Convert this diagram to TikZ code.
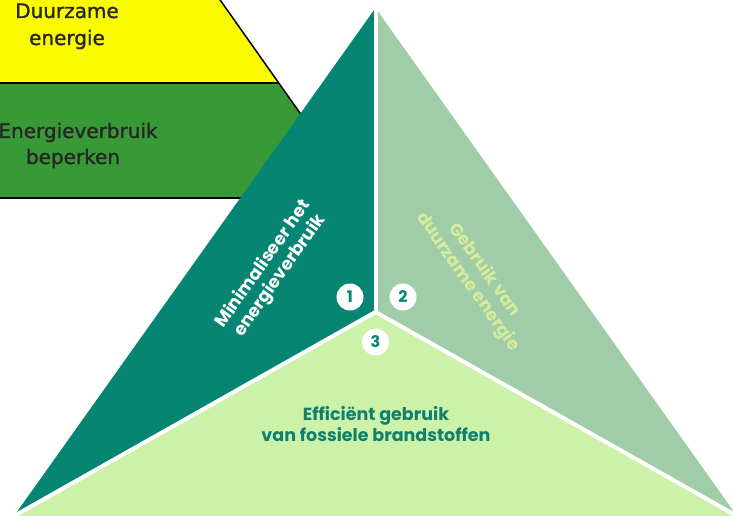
\documentclass[tikz,border=0pt]{standalone}
\usepackage{fontspec}
\setmainfont{Poppins}
\newfontfamily\pyrfont[FakeBold=1.2]{DejaVu Sans}
\definecolor{teal1}{HTML}{058572}
\definecolor{sage}{HTML}{A0CDA8}
\definecolor{pale}{HTML}{CCF1A8}
\definecolor{paletext}{HTML}{D2EC9C}
\definecolor{tealtext}{HTML}{117F6E}
\definecolor{pyryellow}{HTML}{FAFA00}
\definecolor{pyrgreen}{HTML}{379A37}
\begin{document}
\begin{tikzpicture}[x=1pt,y=-1pt,
  pyrtext/.style={font=\pyrfont\fontsize{20}{24}\selectfont, text=black!85, anchor=base, inner sep=0pt},
  maintext/.style={font=\fontseries{sb}\selectfont\fontsize{17.5}{20.5}\selectfont, align=center, inner sep=0pt},
  numcircle/.style={circle, fill=white, minimum size=27pt, inner sep=0pt, text=teal1, font=\bfseries\fontsize{16}{16}\selectfont},
  gap/.style={white, line width=4pt}]
\useasboundingbox (0,0) rectangle (733,516);
\clip (0,0) rectangle (733,516);
% pyramid
\fill[pyryellow] (-20,-20) -- (206,-20) -- (278.7,83) -- (-20,83) -- cycle;
\fill[pyrgreen] (-20,83) -- (278.7,83) -- (360,198) -- (-20,198) -- cycle;
\draw[black, line width=1.5pt] (206,-20) -- (360,198);
\draw[black, line width=1.5pt] (-20,83) -- (278.7,83);
\draw[black, line width=1.5pt] (-20,198) -- (360,198);
\node[pyrtext] (d1) at (67,18) {Duurzame};
\node[pyrtext] (d2) at (67,45) {energie};
\node[pyrtext] (e1) at (78,138) {Energieverbruik};
\node[pyrtext] (e2) at (73,164) {beperken};
% triangles
\coordinate (apex) at (375.5,8);
\coordinate (ctr) at (375.5,312);
\coordinate (bl) at (14,516);
\coordinate (br) at (737,516);
\fill[teal1] (apex) -- (bl) -- (ctr) -- cycle;
\fill[sage] (apex) -- (br) -- (ctr) -- cycle;
\fill[pale] (bl) -- (ctr) -- (br) -- cycle;
\draw[gap] (apex) -- (ctr);
\draw[gap] (ctr) -- (bl);
\draw[gap] (ctr) -- (br);
% texts
\node[maintext, text=white, rotate=54.7] (t1) at (272,270) {Minimaliseer het\\energieverbruik};
\node[maintext, text=paletext, rotate=-54.7] (t2) at (476,276) {Gebruik van\\duurzame energie};
\node[maintext, text=tealtext] (t3) at (376,424) {Efficiënt gebruik\\van fossiele brandstoffen};
% numbers
\node[numcircle] (n1) at (350,297) {1};
\node[numcircle] (n2) at (403,297) {2};
\node[numcircle] (n3) at (375.5,342) {3};
\end{tikzpicture}
\end{document}
